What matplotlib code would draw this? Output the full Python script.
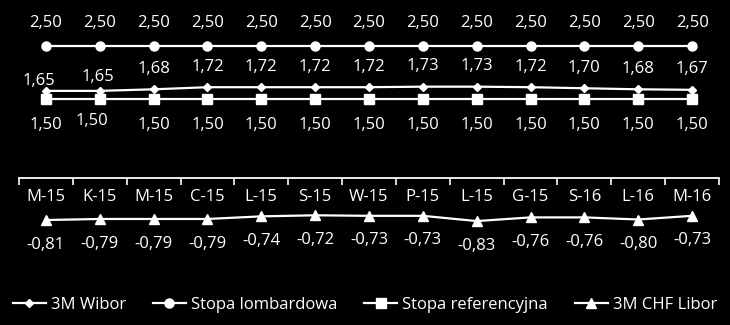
import matplotlib
matplotlib.use("Agg")
import matplotlib.pyplot as plt
import numpy as np

categories = ["M-15", "K-15", "M-15", "C-15", "L-15", "S-15", "W-15", "P-15",
              "L-15", "G-15", "S-16", "L-16", "M-16"]
wibor = [1.65, 1.65, 1.68, 1.72, 1.72, 1.72, 1.72, 1.73, 1.73, 1.72, 1.70, 1.68, 1.67]
lombard = [2.50] * 13
referencyjna = [1.50] * 13
chf_libor = [-0.81, -0.79, -0.79, -0.79, -0.74, -0.72, -0.73, -0.73, -0.83, -0.76, -0.76, -0.80, -0.73]

plt.rcParams['font.family'] = ['Open Sans', 'DejaVu Sans']

W, H = 730, 325
fig = plt.figure(figsize=(W / 100, H / 100), dpi=100, facecolor='black')
# axes geometry in pixels
left_px, right_px = 19, 719
top_px, bottom_px = 5, 280
zero_px = 177.5
scale = 52.5  # px per unit
ax = fig.add_axes([left_px / W, 1 - bottom_px / H, (right_px - left_px) / W, (bottom_px - top_px) / H])
ax.set_facecolor('black')
ax.set_ylim(-(bottom_px - zero_px) / scale, (zero_px - top_px) / scale)
ax.set_xlim(-0.5, len(categories) - 0.5)

x = np.arange(len(categories))
lw = 1.6
ax.plot(x, wibor, color='white', lw=lw, marker='D', markersize=4.5, label='3M Wibor')
ax.plot(x, lombard, color='white', lw=lw, marker='o', markersize=6.5, label='Stopa lombardowa')
ax.plot(x, referencyjna, color='white', lw=lw, marker='s', markersize=7, label='Stopa referencyjna')
ax.plot(x, chf_libor, color='white', lw=lw, marker='^', markersize=7.5, label='3M CHF Libor')

fmt = lambda v: f"{v:.2f}".replace('.', ',')
fs = 12
for i in x:
    ax.annotate(fmt(lombard[i]), (i, lombard[i]), xytext=(0, 11), textcoords='offset points',
                ha='center', va='bottom', color='white', fontsize=fs)
    # wibor labels
    dx, dy = 0, 9
    if i == 0:
        dx, dy = -5, 1
    elif i == 1:
        dx, dy = -1, 4
    ax.annotate(fmt(wibor[i]), (i, wibor[i]), xytext=(dx, dy), textcoords='offset points',
                ha='center', va='bottom', color='white', fontsize=fs)
    dx2, dy2 = 0, -13
    if i == 1:
        dx2, dy2 = -5.5, -10
    ax.annotate(fmt(referencyjna[i]), (i, referencyjna[i]), xytext=(dx2, dy2), textcoords='offset points',
                ha='center', va='top', color='white', fontsize=fs)
    ax.annotate(fmt(chf_libor[i]), (i, chf_libor[i]), xytext=(0, -12), textcoords='offset points',
                ha='center', va='top', color='white', fontsize=fs)

# axis styling
for s in ['top', 'right', 'left']:
    ax.spines[s].set_visible(False)
ax.spines['bottom'].set_position(('data', 0))
ax.spines['bottom'].set_color('white')
ax.spines['bottom'].set_linewidth(1.3)
ax.set_yticks([])
ax.set_xticks(x)
ax.set_xticklabels(categories)
ax.set_xticks(np.arange(-0.5, len(categories), 1), minor=True)
ax.tick_params(axis='x', which='major', length=0, pad=8, colors='white', labelsize=fs)
ax.tick_params(axis='x', which='minor', length=5, width=1.2, color='white', direction='out')

leg = fig.legend(loc='center', bbox_to_anchor=(0.5, 1 - 305 / H),
                 ncol=4, frameon=False, fontsize=12, labelcolor='white',
                 handlelength=2.0, columnspacing=1.6, handletextpad=0.3)

fig.savefig('out.png', dpi=100, facecolor='black')
